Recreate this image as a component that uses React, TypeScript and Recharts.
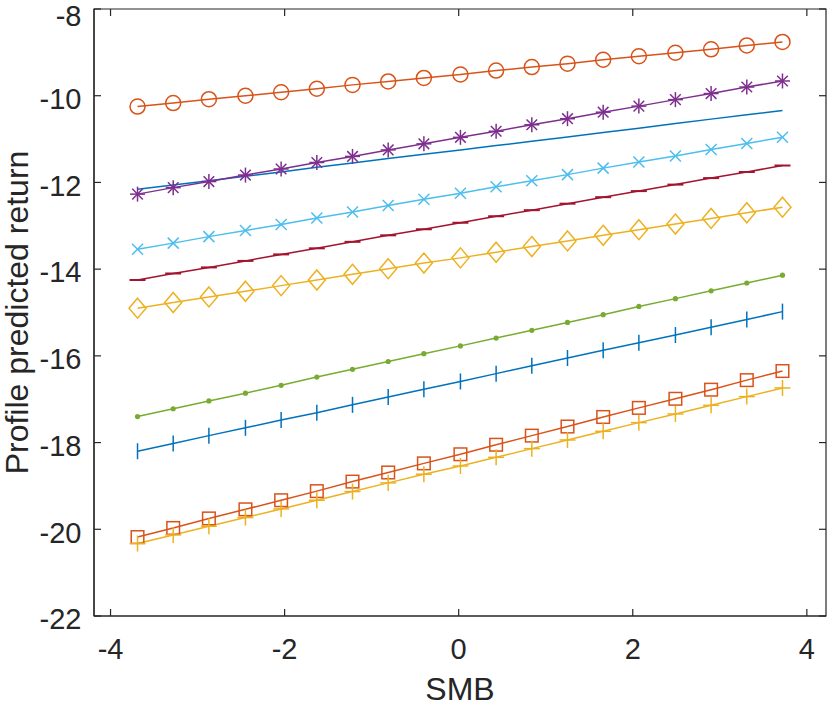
import React from 'react';
import { LineChart, Line, XAxis, YAxis, ReferenceArea } from 'recharts';

// ---- data ----
const SMB = [-3.69, -3.28, -2.87, -2.45, -2.04, -1.63, -1.22, -0.81, -0.40, 0.02, 0.43, 0.84, 1.25, 1.66, 2.07, 2.49, 2.90, 3.31, 3.72];

const CIRCLE = [-10.25, -10.17, -10.08, -10.0, -9.92, -9.84, -9.75, -9.67, -9.59, -9.51, -9.42, -9.34, -9.26, -9.17, -9.09, -9.01, -8.93, -8.84, -8.76];
const ASTERISK = [-12.27, -12.12, -11.98, -11.83, -11.69, -11.54, -11.4, -11.25, -11.11, -10.96, -10.82, -10.67, -10.53, -10.38, -10.24, -10.09, -9.95, -9.8, -9.66];
const PLAIN = [-12.16, -12.06, -11.96, -11.86, -11.76, -11.65, -11.55, -11.45, -11.35, -11.25, -11.15, -11.05, -10.95, -10.85, -10.75, -10.64, -10.54, -10.44, -10.34];
const CROSS = [-13.54, -13.4, -13.25, -13.11, -12.97, -12.82, -12.68, -12.53, -12.39, -12.25, -12.1, -11.96, -11.82, -11.67, -11.53, -11.39, -11.24, -11.1, -10.96];
const HBAR = [-14.25, -14.1, -13.96, -13.81, -13.66, -13.52, -13.37, -13.22, -13.08, -12.93, -12.78, -12.64, -12.49, -12.34, -12.2, -12.05, -11.9, -11.76, -11.61];
const DIAMOND = [-14.9, -14.77, -14.64, -14.51, -14.38, -14.25, -14.12, -13.99, -13.86, -13.74, -13.61, -13.48, -13.35, -13.22, -13.09, -12.96, -12.83, -12.7, -12.57];
const DOT = [-17.4, -17.22, -17.04, -16.86, -16.68, -16.49, -16.31, -16.13, -15.95, -15.77, -15.59, -15.41, -15.23, -15.05, -14.86, -14.68, -14.5, -14.32, -14.14];
const VBAR = [-18.2, -18.02, -17.84, -17.66, -17.48, -17.31, -17.13, -16.95, -16.77, -16.59, -16.41, -16.23, -16.05, -15.87, -15.7, -15.52, -15.34, -15.16, -14.98];
const SQUARE = [-20.18, -19.97, -19.75, -19.54, -19.33, -19.12, -18.9, -18.69, -18.48, -18.27, -18.05, -17.84, -17.63, -17.41, -17.2, -16.99, -16.78, -16.56, -16.35];
const PLUS = [-20.33, -20.13, -19.93, -19.73, -19.53, -19.33, -19.13, -18.93, -18.73, -18.54, -18.34, -18.14, -17.94, -17.74, -17.54, -17.34, -17.14, -16.94, -16.74];

const X_TICKS = [-4, -2, 0, 2, 4];
const Y_TICKS = [-22, -20, -18, -16, -14, -12, -10, -8];
const X_DOMAIN = [-4.19, 4.22];
const Y_DOMAIN = [-22, -8];

const rows = SMB.map((x, i) => ({
  x,
  circle: CIRCLE[i],
  asterisk: ASTERISK[i],
  plain: PLAIN[i],
  cross: CROSS[i],
  hbar: HBAR[i],
  diamond: DIAMOND[i],
  dot: DOT[i],
  vbar: VBAR[i],
  square: SQUARE[i],
  plus: PLUS[i],
}));

// ---- layout / style ----
const W = 830;
const H = 707;
const MARGIN = { top: 9, right: 4, left: 0, bottom: 0 };
const Y_AXIS_W = 94;
const X_AXIS_H = 91;
const PLOT_W = W - MARGIN.left - MARGIN.right - Y_AXIS_W;
const PLOT_H = H - MARGIN.top - MARGIN.bottom - X_AXIS_H;
const AX = '#262626';
const FONT = '"Liberation Sans", Arial, Helvetica, sans-serif';
const TICK_FS = 29;
const LABEL_FS = 32;
const TICK_LEN = 7;
const X_TICK_MARGIN = 22;
const Y_TICK_MARGIN = 12.5;
const SW = 1.5;

const C_BLUE = '#0072BD';
const C_ORANGE = '#D95319';
const C_YELLOW = '#EDB120';
const C_PURPLE = '#7E2F8E';
const C_GREEN = '#77AC30';
const C_CYAN = '#4DBEEE';
const C_RED = '#A2142F';

const XTick = (props: any) => {
  const { x, y, payload } = props;
  const axisY = y - X_TICK_MARGIN;
  const topY = axisY - PLOT_H;
  return (
    <g>
      <line x1={x} x2={x} y1={axisY} y2={axisY - TICK_LEN} stroke={AX} strokeWidth={1.2} />
      <line x1={x} x2={x} y1={topY} y2={topY + TICK_LEN} stroke={AX} strokeWidth={1.2} />
      <text x={x} y={y} dy="0.71em" textAnchor="middle" fill={AX} fontSize={TICK_FS} fontFamily={FONT}>
        {payload.value}
      </text>
    </g>
  );
};

const YTick = (props: any) => {
  const { x, y, payload } = props;
  const axisX = x + Y_TICK_MARGIN;
  const rightX = axisX + PLOT_W;
  const isTop = payload.value === Y_DOMAIN[1];
  return (
    <g>
      <line x1={axisX} x2={axisX + TICK_LEN} y1={y} y2={y} stroke={AX} strokeWidth={1.2} />
      <line x1={rightX} x2={rightX - TICK_LEN} y1={y} y2={y} stroke={AX} strokeWidth={1.2} />
      <text x={x} y={y + (isTop ? 7 : 3)} dy="0.355em" textAnchor="end" fill={AX} fontSize={TICK_FS} fontFamily={FONT}>
        {payload.value}
      </text>
    </g>
  );
};

type Shape = 'circle' | 'asterisk' | 'cross' | 'hbar' | 'diamond' | 'dot' | 'vbar' | 'square' | 'plus';

const makeDot = (shape: Shape, color: string) => (props: any) => {
  const { cx, cy, index } = props;
  const key = `${shape}-${index}`;
  if (cx == null || cy == null) return <g key={key} />;
  const s = { stroke: color, strokeWidth: SW, fill: 'none' };
  switch (shape) {
    case 'circle':
      return <circle key={key} cx={cx} cy={cy} r={7.5} {...s} />;
    case 'square':
      return <rect key={key} x={cx - 6.3} y={cy - 6.3} width={12.6} height={12.6} {...s} />;
    case 'diamond':
      return (
        <polygon
          key={key}
          points={`${cx},${cy - 10} ${cx + 8.5},${cy} ${cx},${cy + 10} ${cx - 8.5},${cy}`}
          {...s}
        />
      );
    case 'dot':
      return <circle key={key} cx={cx} cy={cy} r={2.6} fill={color} stroke="none" />;
    case 'hbar':
      return <line key={key} x1={cx - 8} x2={cx + 8} y1={cy} y2={cy} {...s} strokeWidth={2} />;
    case 'vbar':
      return <line key={key} x1={cx} x2={cx} y1={cy - 8} y2={cy + 8} {...s} />;
    case 'plus':
      return (
        <g key={key}>
          <line x1={cx - 8} x2={cx + 8} y1={cy} y2={cy} {...s} />
          <line x1={cx} x2={cx} y1={cy - 8} y2={cy + 8} {...s} />
        </g>
      );
    case 'cross':
      return (
        <g key={key}>
          <line x1={cx - 5.5} x2={cx + 5.5} y1={cy - 5.5} y2={cy + 5.5} {...s} />
          <line x1={cx - 5.5} x2={cx + 5.5} y1={cy + 5.5} y2={cy - 5.5} {...s} />
        </g>
      );
    case 'asterisk':
      return (
        <g key={key}>
          <line x1={cx - 7.5} x2={cx + 7.5} y1={cy} y2={cy} {...s} />
          <line x1={cx} x2={cx} y1={cy - 7.5} y2={cy + 7.5} {...s} />
          <line x1={cx - 5.3} x2={cx + 5.3} y1={cy - 5.3} y2={cy + 5.3} {...s} />
          <line x1={cx - 5.3} x2={cx + 5.3} y1={cy + 5.3} y2={cy - 5.3} {...s} />
        </g>
      );
    default:
      return <g key={key} />;
  }
};

const SERIES: { key: string; color: string; shape: Shape | null }[] = [
  { key: 'plain', color: C_BLUE, shape: null },
  { key: 'circle', color: C_ORANGE, shape: 'circle' },
  { key: 'asterisk', color: C_PURPLE, shape: 'asterisk' },
  { key: 'cross', color: C_CYAN, shape: 'cross' },
  { key: 'hbar', color: C_RED, shape: 'hbar' },
  { key: 'diamond', color: C_YELLOW, shape: 'diamond' },
  { key: 'dot', color: C_GREEN, shape: 'dot' },
  { key: 'vbar', color: C_BLUE, shape: 'vbar' },
  { key: 'square', color: C_ORANGE, shape: 'square' },
  { key: 'plus', color: C_YELLOW, shape: 'plus' },
];

export default function App() {
  return (
    <div style={{ position: 'absolute', left: 0, top: 0, width: W, height: H, background: '#fff' }}>
      <LineChart width={W} height={H} data={rows} margin={MARGIN}>
        <XAxis
          dataKey="x"
          type="number"
          domain={X_DOMAIN}
          ticks={X_TICKS}
          allowDataOverflow
          height={X_AXIS_H}
          tickSize={0}
          tickMargin={X_TICK_MARGIN}
          tickLine={false}
          axisLine={{ stroke: AX, strokeWidth: 1.2 }}
          tick={<XTick />}
          interval={0}
          label={{
            content: () => (
              <text x={MARGIN.left + Y_AXIS_W + PLOT_W / 2} y={H - 7} textAnchor="middle" fill={AX} fontSize={LABEL_FS} fontFamily={FONT}>
                SMB
              </text>
            ),
          }}
        />
        <YAxis
          type="number"
          domain={Y_DOMAIN}
          ticks={Y_TICKS}
          allowDataOverflow
          width={Y_AXIS_W}
          tickSize={0}
          tickMargin={Y_TICK_MARGIN}
          tickLine={false}
          axisLine={{ stroke: AX, strokeWidth: 1.2 }}
          tick={<YTick />}
          interval={0}
          label={{
            content: () => (
              <text
                transform={`translate(28, ${MARGIN.top + PLOT_H / 2}) rotate(-90)`}
                textAnchor="middle"
                fill={AX}
                fontSize={LABEL_FS}
                fontFamily={FONT}
              >
                Profile predicted return
              </text>
            ),
          }}
        />
        <ReferenceArea
          x1={X_DOMAIN[0]}
          x2={X_DOMAIN[1]}
          y1={Y_DOMAIN[0]}
          y2={Y_DOMAIN[1]}
          fill="none"
          fillOpacity={0}
          stroke={AX}
          strokeWidth={1.2}
          strokeOpacity={1}
        />
        {SERIES.map((s) => (
          <Line
            key={s.key}
            dataKey={s.key}
            type="linear"
            stroke={s.color}
            strokeWidth={SW}
            dot={s.shape ? makeDot(s.shape, s.color) : false}
            activeDot={false}
            isAnimationActive={false}
          />
        ))}
      </LineChart>
    </div>
  );
}
